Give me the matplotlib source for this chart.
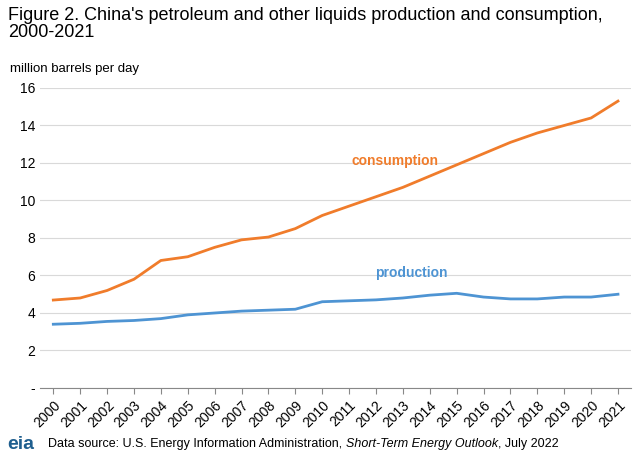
import matplotlib
matplotlib.use("Agg")
import matplotlib.pyplot as plt
from matplotlib.ticker import FuncFormatter

years = list(range(2000, 2022))
consumption = [4.69, 4.8, 5.2, 5.8, 6.8, 7.0, 7.5, 7.9, 8.05, 8.5, 9.2, 9.7, 10.2, 10.7, 11.3, 11.9, 12.5, 13.1, 13.6, 14.0, 14.4, 15.3]
production = [3.4, 3.45, 3.55, 3.6, 3.7, 3.9, 4.0, 4.1, 4.15, 4.2, 4.6, 4.65, 4.7, 4.8, 4.95, 5.05, 4.85, 4.75, 4.75, 4.85, 4.85, 5.0]

plt.rcParams['font.family'] = ['Liberation Sans', 'DejaVu Sans']
fig = plt.figure(figsize=(6.43, 4.63), dpi=100)
ax = fig.add_axes([0.062, 0.162, 0.92, 0.648])
orange = '#f07c2b'; blue = '#4e94d3'
x = list(range(len(years)))
ax.plot(x, consumption, color=orange, lw=2)
ax.plot(x, production, color=blue, lw=2)
ax.set_xlim(-0.5, len(years) - 0.5)
ax.set_ylim(0, 16)
ax.set_yticks(range(0, 17, 2))
ax.yaxis.set_major_formatter(FuncFormatter(lambda v, p: '-' if v == 0 else f'{int(v)}'))
ax.set_xticks(x)
ax.set_xticklabels([str(y) for y in years], rotation=45, ha='right', rotation_mode='anchor', fontsize=10)
ax.grid(axis='y', color='#d9d9d9', lw=0.8)
ax.set_axisbelow(True)
for s in ['top', 'right', 'left']:
    ax.spines[s].set_visible(False)
ax.spines['bottom'].set_color('#888888')
ax.tick_params(axis='y', length=0, labelsize=10)
ax.tick_params(axis='x', length=4, color='#888888')
ax.text(12.7, 11.9, 'consumption', color=orange, fontsize=10, fontweight='bold', ha='center')
ax.text(13.3, 5.9, 'production', color=blue, fontsize=10, fontweight='bold', ha='center')
fig.text(0.012, 0.985, "Figure 2. China's petroleum and other liquids production and consumption,\n2000-2021",
         fontsize=13, va='top', linespacing=1.0)
fig.text(0.015, 0.845, 'million barrels per day', fontsize=9.5)
fig.text(0.012, 0.03, 'eia', fontsize=14, color='#1f5f8f', fontweight='bold')
t1 = fig.text(0.075, 0.035, 'Data source: U.S. Energy Information Administration, ', fontsize=9)
t2 = fig.text(0, 0, 'Short-Term Energy Outlook', fontsize=9, style='italic')
t3 = fig.text(0, 0, ', July 2022', fontsize=9)
fig.canvas.draw()
r = fig.canvas.get_renderer()
b1 = t1.get_window_extent(r)
t2.set_position(((b1.x1) / fig.bbox.width, 0.035))
b2 = t2.get_window_extent(r)
t3.set_position(((b2.x1) / fig.bbox.width, 0.035))
fig.savefig('out.png', dpi=100)
